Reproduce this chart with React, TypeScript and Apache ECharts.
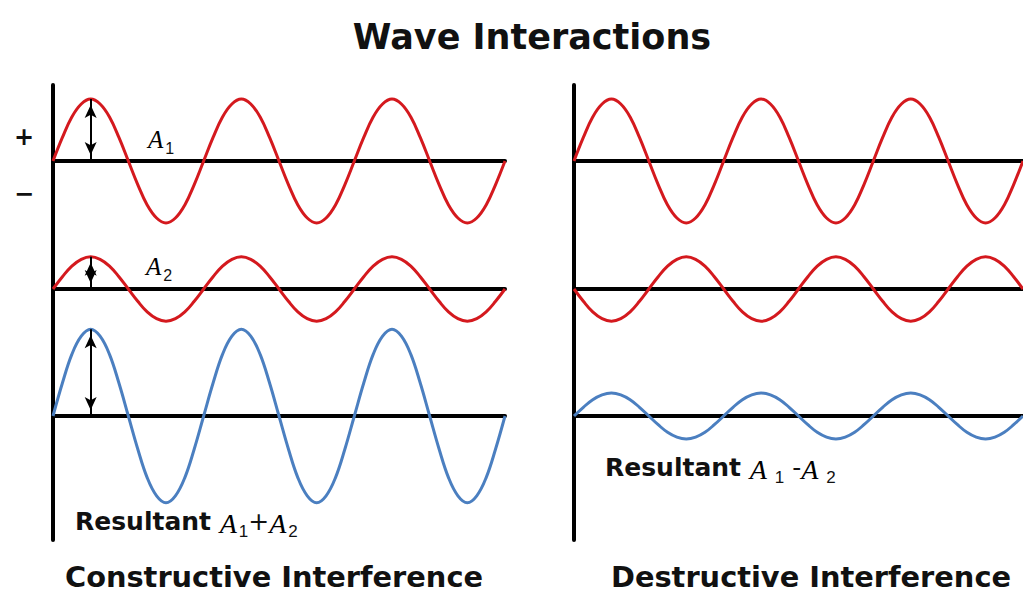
import React, { useEffect, useRef } from "react";
import * as echarts from "echarts";

// One period of the wave (16 samples per cycle, normalised)
const unitCycle = [0, 0.38, 0.71, 0.92, 1, 0.92, 0.71, 0.38, 0, -0.38, -0.71, -0.92, -1, -0.92, -0.71, -0.38];
const cycleCount = 3;

// Amplitudes (in units of A1) for the three rows: A1, A2, resultant
const constructiveAmps = [1.0, 0.52, 1.4];
const destructiveAmps = [1.0, -0.52, 0.37];
const rowColors = ["#d4191e", "#d4191e", "#4b7fc0"];

// Double arrows on the constructive side: position (cycles) and height (amplitude)
const arrowX = 0.25;
const arrowHeights = [1.0, 0.52, 1.4];

const titleText = "Wave Interactions";
const panelTitles = ["Constructive Interference", "Destructive Interference"];

function waveData(amp: number) {
  const pts: number[][] = [];
  const n = unitCycle.length * cycleCount;
  for (let k = 0; k <= n; k++) {
    pts.push([k / unitCycle.length, amp * unitCycle[k % unitCycle.length]]);
  }
  return pts;
}

export default function App() {
  const ref = useRef<HTMLDivElement>(null);
  useEffect(() => {
    if (!ref.current) return;
    const chart = echarts.init(ref.current, undefined, { renderer: "svg" });

    const rowBaselines = [161, 289, 416];
    const halfH = 93; // 1.5 units * 62px
    const panels = [
      { left: 53, width: 452, amps: constructiveAmps },
      { left: 574, width: 449, amps: destructiveAmps },
    ];

    const grid: any[] = [];
    const xAxis: any[] = [];
    const yAxis: any[] = [];
    const series: any[] = [];

    panels.forEach((p, pi) => {
      p.amps.forEach((amp, ri) => {
        const gi = grid.length;
        grid.push({ left: p.left, width: p.width, top: rowBaselines[ri] - halfH, height: halfH * 2 });
        xAxis.push({
          gridIndex: gi,
          type: "value",
          min: 0,
          max: cycleCount,
          axisLine: { show: true, onZero: true, lineStyle: { color: "#000", width: 4 } },
          axisTick: { show: false },
          axisLabel: { show: false },
          splitLine: { show: false },
        });
        yAxis.push({
          gridIndex: gi,
          type: "value",
          min: -1.5,
          max: 1.5,
          axisLine: { show: false },
          axisTick: { show: false },
          axisLabel: { show: false },
          splitLine: { show: false },
        });
        const s: any = {
          type: "line",
          xAxisIndex: gi,
          yAxisIndex: gi,
          data: waveData(amp),
          smooth: 0.4,
          showSymbol: false,
          clip: false,
          silent: true,
          lineStyle: { color: rowColors[ri], width: 3 },
          z: 3,
        };
        if (pi === 0) {
          s.markLine = {
            silent: true,
            symbol: ["arrow", "arrow"],
            symbolSize: [9, 13],
            symbolOffset: [
              [0, 6],
              [0, 6],
            ],
            label: { show: false },
            lineStyle: { color: "#000", width: 2, type: "solid" },
            data: [[{ coord: [arrowX, 0] }, { coord: [arrowX, arrowHeights[ri]] }]],
          };
        }
        series.push(s);
      });
    });

    // Frame (vertical axes)
    panels.forEach((p) => {
      const gi = grid.length;
      grid.push({ left: p.left, width: p.width, top: 85, height: 455 });
      xAxis.push({ gridIndex: gi, type: "value", min: 0, max: 1, show: false });
      yAxis.push({
        gridIndex: gi,
        type: "value",
        min: 0,
        max: 1,
        axisLine: { show: true, lineStyle: { color: "#000", width: 4 } },
        axisTick: { show: false },
        axisLabel: { show: false },
        splitLine: { show: false },
      });
    });

    const ink = "#111";
    const richBase = {
      r: { fontFamily: "DejaVu Sans", fontWeight: "bold", fontSize: 25, fill: ink, lineHeight: 30, verticalAlign: "top" },
      a: { fontFamily: "Liberation Serif", fontStyle: "italic", fontSize: 28, fill: "#000", lineHeight: 30, verticalAlign: "top" },
      s: { fontFamily: "Liberation Sans", fontSize: 17, fill: ink, lineHeight: 17, verticalAlign: "top", padding: [14, 0, 0, 2] },
      s2: { fontFamily: "Liberation Sans", fontSize: 17, fill: ink, lineHeight: 17, verticalAlign: "top", padding: [14, 0, 0, 8] },
      p: { fontFamily: "DejaVu Sans", fontSize: 25, fill: ink, lineHeight: 30, verticalAlign: "top" },
      la: { fontFamily: "Liberation Serif", fontStyle: "italic", fontSize: 25, fill: "#000", lineHeight: 28, verticalAlign: "top" },
      ls: { fontFamily: "Liberation Sans", fontSize: 16, fill: ink, lineHeight: 16, verticalAlign: "top", padding: [13, 0, 0, 2] },
    };

    const graphic: any[] = [
      {
        type: "text",
        x: 532,
        y: 37,
        style: { text: titleText, fontFamily: "DejaVu Sans", fontWeight: "bold", fontSize: 35, lineHeight: 36, fill: ink, align: "center", verticalAlign: "middle" },
      },
      {
        type: "text",
        x: 274,
        y: 578,
        scaleX: 1.03,
        style: { text: panelTitles[0], fontFamily: "DejaVu Sans", fontWeight: "bold", fontSize: 28, lineHeight: 26, fill: ink, align: "center", verticalAlign: "middle" },
      },
      {
        type: "text",
        x: 811,
        y: 578,
        scaleX: 1.03,
        style: { text: panelTitles[1], fontFamily: "DejaVu Sans", fontWeight: "bold", fontSize: 28, lineHeight: 26, fill: ink, align: "center", verticalAlign: "middle" },
      },
      {
        type: "text",
        x: 24,
        y: 137,
        style: { text: "+", fontFamily: "DejaVu Sans", fontWeight: "bold", fontSize: 24, fill: ink, align: "center", verticalAlign: "middle" },
      },
      {
        type: "text",
        x: 24,
        y: 194,
        style: { text: "\u2212", fontFamily: "DejaVu Sans", fontWeight: "bold", fontSize: 24, fill: ink, align: "center", verticalAlign: "middle" },
      },
      {
        type: "text",
        x: 148,
        y: 141,
        style: { text: "{la|A}{ls|1}", rich: richBase, align: "left", verticalAlign: "middle" },
      },
      {
        type: "text",
        x: 146,
        y: 268,
        style: { text: "{la|A}{ls|2}", rich: richBase, align: "left", verticalAlign: "middle" },
      },
      {
        type: "text",
        x: 75,
        y: 524,
        style: { text: "{r|Resultant }{a|A}{s|1}{p|+}{a|A}{s|2}", rich: richBase, align: "left", verticalAlign: "middle" },
      },
      {
        type: "text",
        x: 605,
        y: 470,
        style: { text: "{r|Resultant }{a|A}{s2|1}{p| -}{a|A}{s2|2}", rich: richBase, align: "left", verticalAlign: "middle" },
      },
    ];

    chart.setOption({
      animation: false,
      backgroundColor: "#ffffff",
      grid,
      xAxis,
      yAxis,
      series,
      graphic,
    });
    return () => chart.dispose();
  }, []);

  return (
    <div
      ref={ref}
      style={{ position: "fixed", left: 0, top: 0, width: 1023, height: 595, background: "#fff" }}
    />
  );
}
